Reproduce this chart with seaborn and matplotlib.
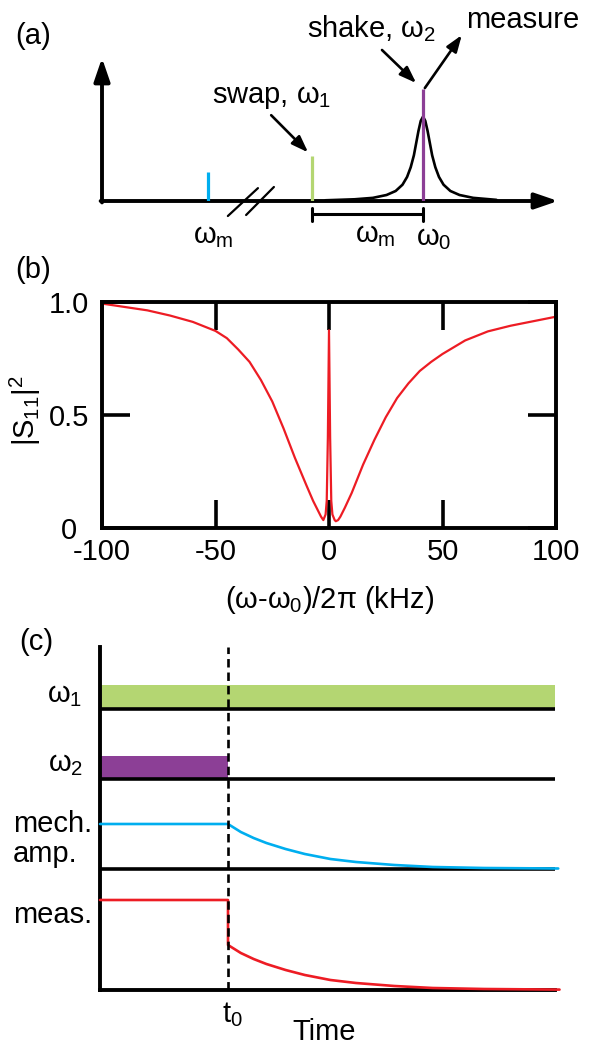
import matplotlib
matplotlib.use('Agg')
import matplotlib.pyplot as plt
import seaborn as sns

W, H = 598, 1045

# ---- values ----
# (a) drive tones on the frequency axis (arb. units) and the cavity line
tone_freq = [2.32, 4.61, 7.04]          # omega_m, omega_1 (swap), omega_2 (shake)
tone_height = [0.20, 0.315, 0.78]
cav_freq = [4.90, 5.54, 5.94, 6.24, 6.44, 6.59, 6.69, 6.77, 6.84, 6.89, 6.94, 6.99, 7.04,
            7.09, 7.14, 7.19, 7.24, 7.31, 7.39, 7.49, 7.64, 7.84, 8.14, 8.65]
cav_height = [0.005, 0.012, 0.022, 0.042, 0.07, 0.114, 0.168, 0.236, 0.32, 0.405, 0.49, 0.56, 0.59,
              0.56, 0.49, 0.405, 0.32, 0.236, 0.168, 0.114, 0.07, 0.042, 0.022, 0.008]

# (b) reflection |S11|^2 vs detuning (kHz)
s11_freq = [-100, -90, -80, -70, -60, -50, -45, -40, -35, -30, -25, -20, -15, -10, -7, -5, -3.5,
            -2.5, -1.5, -1.0, -0.5, 0, 0.5, 1.0, 1.5, 2.5, 3.0, 4.0,
            5, 7, 10, 15, 20, 25, 30, 35, 40, 45, 50, 60, 70, 80, 90, 100]
s11_mag = [0.993, 0.978, 0.963, 0.94, 0.912, 0.872, 0.84, 0.79, 0.735, 0.655, 0.56, 0.44, 0.31,
           0.19, 0.12, 0.08, 0.05,
           0.035, 0.06, 0.12, 0.40, 0.875, 0.40, 0.12, 0.06, 0.035, 0.03, 0.035,
           0.05, 0.09, 0.155, 0.28, 0.39, 0.49, 0.575, 0.64, 0.695, 0.735, 0.77, 0.83, 0.87,
           0.895, 0.915, 0.935]

# (c) pulse sequence (time in arb. units, t0 = 1)
t0 = 1.0
t_end = 3.555
chan_base = [2.81, 2.11, 1.21]           # omega_1, omega_2, mech. amp. baselines
drive1_top = 3.05
drive2_top = 2.34
mech_t = [0, 1.0, 1.1, 1.2, 1.3, 1.45, 1.6, 1.8, 2.0, 2.3, 2.6, 3.0, 3.58]
mech_y = [1.66, 1.66, 1.58, 1.52, 1.47, 1.41, 1.36, 1.31, 1.28, 1.25, 1.23, 1.22, 1.215]
meas_t = [0, 1.0, 1.0, 1.1, 1.2, 1.3, 1.45, 1.6, 1.8, 2.0, 2.3, 2.6, 3.0, 3.59]
meas_y = [0.90, 0.90, 0.45, 0.37, 0.31, 0.26, 0.20, 0.15, 0.10, 0.07, 0.04, 0.02, 0.01, 0.004]

col = {'blue': '#00AEEF', 'green': '#B4D672', 'purple': '#8C3F96', 'red': '#ED1C24'}

sns.set_style('white')
plt.rcParams['font.family'] = ['Liberation Sans', 'DejaVu Sans']
plt.rcParams['mathtext.fontset'] = 'custom'
plt.rcParams['mathtext.rm'] = 'Liberation Sans'
plt.rcParams['mathtext.it'] = 'Liberation Sans'
plt.rcParams['mathtext.bf'] = 'Liberation Sans:bold'
plt.rcParams['axes.unicode_minus'] = False
for k in ['text.color', 'axes.labelcolor', 'xtick.color', 'ytick.color', 'axes.edgecolor']:
    plt.rcParams[k] = 'black'
FS = 21

fig = plt.figure(figsize=(W / 100, H / 100), dpi=100)


def box(x0, y0, x1, y1):
    # pixel box (top-left origin) -> figure fraction
    return [x0 / W, 1 - y1 / H, (x1 - x0) / W, (y1 - y0) / H]


def ftext(x, y, s, **kw):
    kw.setdefault('fontsize', FS)
    kw.setdefault('color', 'k')
    fig.text(x / W, 1 - y / H, s, **kw)


# ================= (a) =================
ax = fig.add_axes(box(102, 58, 558, 201))
ax.set_xlim(0, 10)
ax.set_ylim(0, 1)
ax.axis('off')

big = dict(arrowstyle='-|>,head_length=0.7,head_width=0.24', mutation_scale=20, lw=2.8,
           color='k', shrinkA=0, shrinkB=0)
ax.annotate('', xy=(10, 0), xytext=(-0.03, 0), arrowprops=big, annotation_clip=False)
ax.annotate('', xy=(0, 1), xytext=(0, -0.01), arrowprops=big, annotation_clip=False)

sns.lineplot(x=cav_freq, y=cav_height, ax=ax, color='k', lw=1.9, estimator=None, sort=False,
             zorder=2)
ax.vlines(tone_freq, 0, tone_height, colors=[col['blue'], col['green'], col['purple']],
          lw=2.3, zorder=3)

# axis break
ax.plot([2.76, 3.42], [-0.105, 0.09], color='k', lw=1.6, clip_on=False)
ax.plot([3.16, 3.77], [-0.098, 0.098], color='k', lw=1.6, clip_on=False)

# omega_m bracket between swap and shake tones
ax.plot([tone_freq[1], tone_freq[2]], [-0.09, -0.09], color='k', lw=2.2, clip_on=False)
for f in tone_freq[1:]:
    ax.plot([f, f], [-0.05, -0.14], color='k', lw=2.2, clip_on=False)

small = dict(arrowstyle='-|>,head_length=0.5,head_width=0.18', mutation_scale=20, lw=1.9,
             color='k', shrinkA=0, shrinkB=0)
ax.annotate('', xy=(4.52, 0.34), xytext=(3.71, 0.60), arrowprops=small, annotation_clip=False)
ax.annotate('', xy=(6.89, 0.825), xytext=(6.14, 1.056), arrowprops=small, annotation_clip=False)
ax.annotate('', xy=(7.89, 1.16), xytext=(7.08, 0.79), arrowprops=small, annotation_clip=False)

ftext(15, 36, '(a)', va='center')
ftext(212, 103, r'swap, $\omega_1$', va='baseline')
ftext(307, 37, r'shake, $\omega_2$', va='baseline')
ftext(466, 28, 'measure', va='baseline')
ftext(193, 243, r'$\omega_{m}$', va='baseline')
ftext(355, 242, r'$\omega_{m}$', va='baseline')
ftext(416, 245, r'$\omega_0$', va='baseline')

# ================= (b) =================
ax = fig.add_axes(box(102, 302, 556, 528))
sns.lineplot(x=s11_freq, y=s11_mag, ax=ax, color=col['red'], lw=1.6, estimator=None, sort=False)
ax.set_xlim(-100, 100)
ax.set_ylim(0, 1)
ax.set_xticks([-100, -50, 0, 50, 100])
ax.set_yticks([0, 0.5, 1.0])
ax.set_yticklabels(['0', '0.5', '1.0'])
ax.tick_params(direction='in', length=20, width=2.6, top=True, right=True, bottom=True,
               left=True, labelsize=FS, colors='k')
ax.tick_params(axis='x', pad=7)
ax.tick_params(axis='y', pad=24)
for lab in ax.get_yticklabels():
    lab.set_ha('center')
for s in ax.spines.values():
    s.set_linewidth(2.8)
    s.set_color('k')
ax.set_xlabel(r'($\omega$-$\omega_0$)/2$\pi$ (kHz)', fontsize=FS)
ax.set_ylabel(r'$|S_{11}|^2$', fontsize=FS)
ax.xaxis.set_label_coords(0.502, -0.25)
ax.yaxis.set_label_coords(-0.13, 0.52)
ftext(15, 270, '(b)', va='center')

# ================= (c) =================
ax = fig.add_axes(box(100, 647, 100 + 3.6 * 128, 990))
ax.set_xlim(0, 3.6)
ax.set_ylim(0, 3.43)
ax.set_xticks([])
ax.set_yticks([])
for side in ['top', 'right']:
    ax.spines[side].set_visible(False)
for side in ['left', 'bottom']:
    ax.spines[side].set_linewidth(2.8)
    ax.spines[side].set_color('k')
ax.spines['bottom'].set_bounds(0, t_end)

ax.fill_between([0, t_end], chan_base[0], drive1_top, color=col['green'], lw=0)
ax.fill_between([0, t0], chan_base[1], drive2_top, color=col['purple'], lw=0)
ax.hlines(chan_base, 0, t_end, colors='k', lw=2.6, zorder=2)
sns.lineplot(x=mech_t, y=mech_y, ax=ax, color=col['blue'], lw=1.9, estimator=None, sort=False,
             zorder=3)
sns.lineplot(x=meas_t, y=meas_y, ax=ax, color=col['red'], lw=1.9, estimator=None, sort=False,
             zorder=3)
for ln in ax.lines[-2:]:
    ln.set_clip_on(False)
ax.axvline(t0, color='k', lw=1.9, ls=(0, (3.2, 1.9)), zorder=5, clip_on=False)

ftext(82, 702, r'$\omega_1$', va='baseline', ha='right')
ftext(83, 771, r'$\omega_2$', va='baseline', ha='right')
ftext(13, 832, 'mech.', va='baseline')
ftext(13, 862, 'amp.', va='baseline')
ftext(13, 923, 'meas.', va='baseline')
ftext(222, 1022, r'$t_0$', va='baseline')
ftext(292, 1040, 'Time', va='baseline')
ftext(19, 642, '(c)', va='center')

fig.savefig('out.png', dpi=100)
